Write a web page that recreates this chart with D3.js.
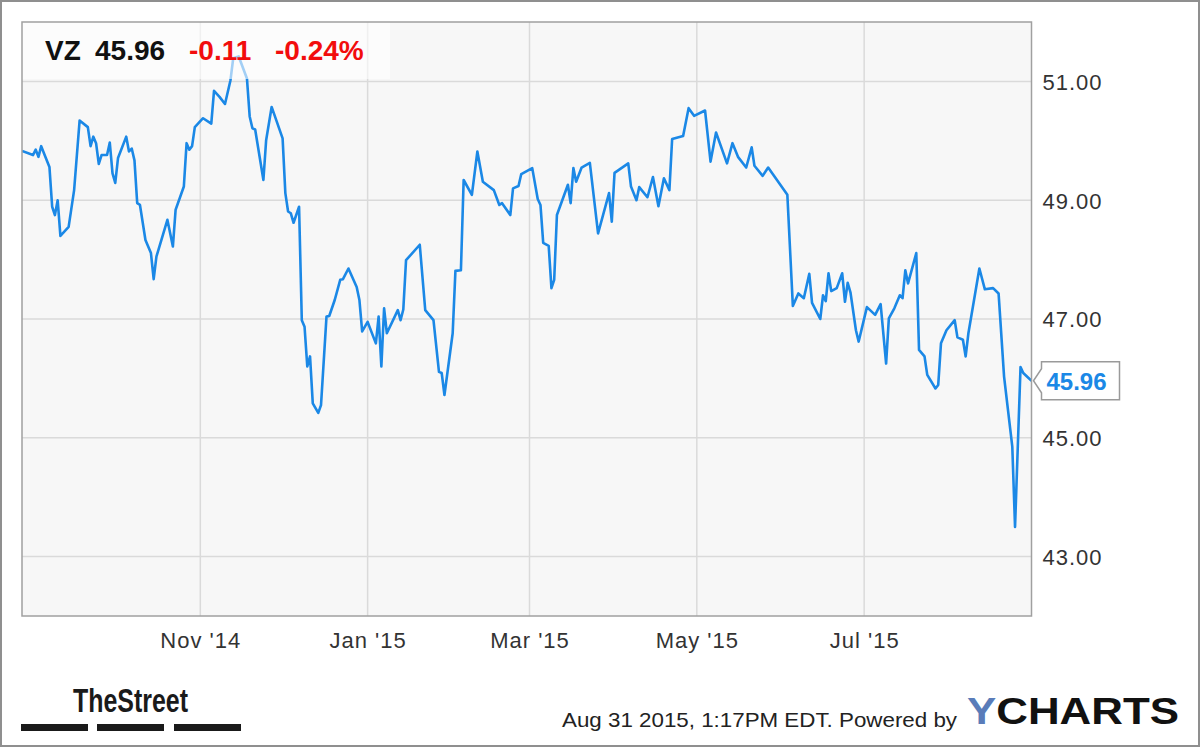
<!DOCTYPE html>
<html>
<head>
<meta charset="utf-8">
<script src="https://cdn.jsdelivr.net/npm/d3@7"></script>
<style>
  body { margin: 0; background: #fff; }
  svg { display: block; font-family: "Liberation Sans", Arial, sans-serif; }
</style>
</head>
<body>
<div class="container"></div>
<script>
const ticker = 'VZ';
const lastPrice = '45.96';
const change = '-0.11';
const changePct = '-0.24%';
const stamp = 'Aug 31 2015, 1:17PM EDT.  Powered by';

const yTicks = [43, 45, 47, 49, 51];
const xTicks = ['2014-11-01', '2015-01-01', '2015-03-01', '2015-05-01', '2015-07-01'];
const xDomain = ['2014-08-28', '2015-08-31'];
const yDomain = [42, 52];

// daily closes
const dates = [
  '2014-08-28', '2014-09-01', '2014-09-02', '2014-09-03', '2014-09-04', '2014-09-05', '2014-09-07', '2014-09-08',
  '2014-09-09', '2014-09-10', '2014-09-11', '2014-09-14', '2014-09-16', '2014-09-18', '2014-09-21', '2014-09-22',
  '2014-09-23', '2014-09-24', '2014-09-25', '2014-09-26', '2014-09-28', '2014-09-29', '2014-09-30', '2014-10-01',
  '2014-10-02', '2014-10-05', '2014-10-06', '2014-10-07', '2014-10-08', '2014-10-09', '2014-10-10', '2014-10-12',
  '2014-10-14', '2014-10-15', '2014-10-16', '2014-10-20', '2014-10-22', '2014-10-23', '2014-10-26', '2014-10-27',
  '2014-10-28', '2014-10-29', '2014-10-30', '2014-11-02', '2014-11-05', '2014-11-06', '2014-11-08', '2014-11-10',
  '2014-11-12', '2014-11-13', '2014-11-15', '2014-11-18', '2014-11-19', '2014-11-20', '2014-11-21', '2014-11-24',
  '2014-11-25', '2014-11-27', '2014-12-01', '2014-12-02', '2014-12-03', '2014-12-04', '2014-12-05', '2014-12-07',
  '2014-12-08', '2014-12-09', '2014-12-10', '2014-12-11', '2014-12-12', '2014-12-14', '2014-12-15', '2014-12-17',
  '2014-12-18', '2014-12-20', '2014-12-22', '2014-12-23', '2014-12-25', '2014-12-28', '2014-12-29', '2014-12-30',
  '2015-01-01', '2015-01-04', '2015-01-05', '2015-01-06', '2015-01-07', '2015-01-08', '2015-01-12', '2015-01-13',
  '2015-01-14', '2015-01-15', '2015-01-20', '2015-01-22', '2015-01-25', '2015-01-27', '2015-01-28', '2015-01-29',
  '2015-02-01', '2015-02-02', '2015-02-04', '2015-02-05', '2015-02-08', '2015-02-10', '2015-02-12', '2015-02-16',
  '2015-02-18', '2015-02-19', '2015-02-22', '2015-02-23', '2015-02-25', '2015-02-26', '2015-03-02', '2015-03-04',
  '2015-03-05', '2015-03-06', '2015-03-08', '2015-03-09', '2015-03-10', '2015-03-11', '2015-03-15', '2015-03-16',
  '2015-03-17', '2015-03-18', '2015-03-20', '2015-03-23', '2015-03-26', '2015-03-30', '2015-03-31', '2015-04-01',
  '2015-04-06', '2015-04-07', '2015-04-09', '2015-04-10', '2015-04-13', '2015-04-15', '2015-04-17', '2015-04-19',
  '2015-04-21', '2015-04-22', '2015-04-26', '2015-04-28', '2015-04-30', '2015-05-04', '2015-05-06', '2015-05-08',
  '2015-05-12', '2015-05-14', '2015-05-16', '2015-05-19', '2015-05-21', '2015-05-22', '2015-05-25', '2015-05-27',
  '2015-06-03', '2015-06-05', '2015-06-07', '2015-06-09', '2015-06-11', '2015-06-12', '2015-06-15', '2015-06-16',
  '2015-06-17', '2015-06-18', '2015-06-19', '2015-06-21', '2015-06-23', '2015-06-24', '2015-06-25', '2015-06-26',
  '2015-06-28', '2015-06-29', '2015-07-02', '2015-07-05', '2015-07-07', '2015-07-09', '2015-07-10', '2015-07-12',
  '2015-07-14', '2015-07-15', '2015-07-16', '2015-07-17', '2015-07-20', '2015-07-21', '2015-07-23', '2015-07-24',
  '2015-07-27', '2015-07-28', '2015-07-29', '2015-07-31', '2015-08-03', '2015-08-04', '2015-08-06', '2015-08-07',
  '2015-08-08', '2015-08-12', '2015-08-14', '2015-08-17', '2015-08-19', '2015-08-21', '2015-08-24', '2015-08-25',
  '2015-08-27', '2015-08-28', '2015-08-31'
];
const prices = [
  49.83, 49.76, 49.85, 49.73, 49.91, 49.79, 49.56, 48.89,
  48.75, 49.00, 48.40, 48.55, 49.17, 50.34, 50.23, 49.91,
  50.07, 49.96, 49.61, 49.76, 49.76, 49.97, 49.45, 49.29,
  49.71, 50.07, 49.82, 49.87, 49.67, 48.95, 48.92, 48.33,
  48.11, 47.67, 48.05, 48.67, 48.22, 48.84, 49.23, 49.96,
  49.85, 49.91, 50.23, 50.38, 50.29, 50.84, 50.74, 50.62,
  51.02, 51.39, 51.42, 51.05, 50.41, 50.21, 50.19, 49.34,
  50.01, 50.57, 50.04, 49.12, 48.81, 48.78, 48.62, 48.89,
  46.98, 46.87, 46.20, 46.37, 45.58, 45.42, 45.55, 47.04,
  47.05, 47.32, 47.66, 47.67, 47.85, 47.54, 47.32, 46.79,
  46.95, 46.59, 47.04, 46.20, 47.18, 46.76, 47.15, 46.98,
  47.16, 47.99, 48.25, 47.15, 46.98, 46.11, 46.09, 45.72,
  46.76, 47.81, 47.82, 49.34, 49.09, 49.82, 49.31, 49.17,
  48.92, 48.95, 48.75, 49.20, 49.24, 49.44, 49.54, 49.02,
  48.92, 48.28, 48.23, 47.52, 47.66, 48.75, 49.26, 48.95,
  49.54, 49.31, 49.55, 49.63, 48.44, 49.12, 48.64, 49.46,
  49.62, 49.23, 49.00, 49.22, 49.05, 49.39, 48.90, 49.37,
  49.17, 50.03, 50.08, 50.55, 50.42, 50.51, 49.65, 50.14,
  49.62, 49.96, 49.73, 49.55, 49.89, 49.58, 49.41, 49.55,
  49.09, 47.22, 47.43, 47.35, 47.76, 47.27, 47.00, 47.40,
  47.30, 47.77, 47.47, 47.52, 47.77, 47.29, 47.61, 47.45,
  46.81, 46.62, 47.20, 47.07, 47.25, 46.25, 47.01, 47.18,
  47.40, 47.35, 47.82, 47.60, 48.11, 46.48, 46.37, 46.06,
  45.83, 45.89, 46.59, 46.81, 46.98, 46.69, 46.65, 46.37,
  46.76, 47.85, 47.50, 47.52, 47.43, 46.03, 44.85, 43.50,
  46.19, 46.09, 45.96
];

const width = 1200;
const height = 747;
const plot = { left: 22, top: 22, right: 1031.5, bottom: 616 };
const lineColor = '#1b88e6';
const parseDate = d3.timeParse('%Y-%m-%d');

const data = dates.map((d, i) => ({ date: parseDate(d), price: prices[i] }));

const x = d3.scaleTime()
  .domain(xDomain.map(parseDate))
  .range([plot.left, plot.right]);

const y = d3.scaleLinear()
  .domain(yDomain)
  .range([plot.bottom, plot.top]);

const svg = d3.select('.container')
  .append('svg')
  .attr('width', width)
  .attr('height', height);

// outer frame
svg.append('rect')
  .attr('x', 1)
  .attr('y', 1)
  .attr('width', width - 2)
  .attr('height', height - 2)
  .attr('fill', '#fff')
  .attr('stroke', '#8f8f8f')
  .attr('stroke-width', 2);

// plot background
svg.append('rect')
  .attr('x', plot.left)
  .attr('y', plot.top)
  .attr('width', plot.right - plot.left)
  .attr('height', plot.bottom - plot.top)
  .attr('fill', '#f7f7f7');

// Gridlines
svg.append('g')
  .attr('class', 'grid')
  .selectAll('line.h')
  .data(yTicks)
  .enter()
  .append('line')
  .attr('x1', plot.left)
  .attr('x2', plot.right)
  .attr('y1', d => y(d))
  .attr('y2', d => y(d))
  .attr('stroke', '#dadada')
  .attr('stroke-width', 1.5);

svg.select('.grid')
  .selectAll('line.v')
  .data(xTicks.map(parseDate))
  .enter()
  .append('line')
  .attr('x1', d => x(d))
  .attr('x2', d => x(d))
  .attr('y1', plot.top)
  .attr('y2', plot.bottom)
  .attr('stroke', '#dadada')
  .attr('stroke-width', 1.5);

svg.append('clipPath')
  .attr('id', 'plot-clip')
  .append('rect')
  .attr('x', plot.left)
  .attr('y', plot.top)
  .attr('width', plot.right - plot.left)
  .attr('height', plot.bottom - plot.top);

// price line
const line = d3.line()
  .x(d => x(d.date))
  .y(d => y(d.price));

svg.append('path')
  .datum(data)
  .attr('clip-path', 'url(#plot-clip)')
  .attr('fill', 'none')
  .attr('stroke', lineColor)
  .attr('stroke-width', 2.6)
  .attr('stroke-linejoin', 'round')
  .attr('d', line);

// header box over the line
svg.append('rect')
  .attr('x', plot.left)
  .attr('y', plot.top)
  .attr('width', 368)
  .attr('height', 57)
  .attr('fill', '#fff')
  .attr('opacity', 0.6);

const header = svg.append('g')
  .attr('font-size', 28)
  .attr('font-weight', 'bold');

header.append('text').attr('x', 45).attr('y', 60).attr('fill', '#111').text(ticker);
header.append('text').attr('x', 95).attr('y', 60).attr('fill', '#111').text(lastPrice);
header.append('text').attr('x', 189).attr('y', 60).attr('fill', '#f20d0d').text(change);
header.append('text').attr('x', 275).attr('y', 60).attr('fill', '#f20d0d').text(changePct);

// plot border
svg.append('rect')
  .attr('x', plot.left)
  .attr('y', plot.top)
  .attr('width', plot.right - plot.left)
  .attr('height', plot.bottom - plot.top)
  .attr('fill', 'none')
  .attr('stroke', '#a0a0a0')
  .attr('stroke-width', 1.5);

// Axes
const xAxis = svg.append('g')
  .attr('transform', `translate(0, ${plot.bottom})`)
  .call(d3.axisBottom(x)
    .tickValues(xTicks.map(parseDate))
    .tickFormat(d3.timeFormat("%b '%y"))
    .tickSize(0)
    .tickPadding(32));

const yAxis = svg.append('g')
  .attr('transform', `translate(${plot.right}, 0)`)
  .call(d3.axisRight(y)
    .tickValues(yTicks)
    .tickFormat(d3.format('.2f'))
    .tickSize(0)
    .tickPadding(11));

[xAxis, yAxis].forEach(axis => {
  axis.select('.domain').remove();
  axis.selectAll('text')
    .attr('font-family', '"Liberation Sans", Arial, sans-serif')
    .attr('font-size', 22)
    .attr('letter-spacing', 1)
    .attr('fill', '#333');
});
xAxis.selectAll('text').attr('dy', 0);
yAxis.selectAll('text').attr('dy', '0.36em');

// last price callout
const lastY = y(prices[prices.length - 1]);
const cx = plot.right + 10;
svg.append('path')
  .attr('d', `M${plot.right + 2},${lastY} L${cx},${lastY - 12} L${cx},${lastY - 19} L${cx + 78},${lastY - 19} L${cx + 78},${lastY + 19} L${cx},${lastY + 19} L${cx},${lastY + 12} Z`)
  .attr('fill', '#fff')
  .attr('stroke', '#9a9a9a')
  .attr('stroke-width', 1.5);

svg.append('text')
  .attr('x', cx + 5)
  .attr('y', lastY + 9)
  .attr('font-size', 24)
  .attr('font-weight', 'bold')
  .attr('fill', lineColor)
  .text(lastPrice);

// footer
svg.append('text')
  .attr('x', 562)
  .attr('y', 727)
  .attr('font-size', 21)
  .attr('fill', '#222')
  .attr('textLength', 395)
  .attr('lengthAdjust', 'spacingAndGlyphs')
  .text(stamp);

const ych = svg.append('text')
  .attr('x', 967)
  .attr('y', 724)
  .attr('font-size', 36)
  .attr('font-weight', 'bold')
  .attr('textLength', 212)
  .attr('lengthAdjust', 'spacingAndGlyphs')
  .attr('fill', '#111');
ych.append('tspan').attr('fill', '#5a7cb9').text('Y');
ych.append('tspan').text('CHARTS');

svg.append('text')
  .attr('x', 73)
  .attr('y', 712)
  .attr('font-family', '"Liberation Sans Narrow", "Liberation Sans", Arial, sans-serif')
  .attr('font-size', 33)
  .attr('font-weight', 'bold')
  .attr('textLength', 115)
  .attr('lengthAdjust', 'spacingAndGlyphs')
  .attr('fill', '#1a1a1a')
  .text('TheStreet');

const barStarts = [21, 97, 174];
svg.append('g')
  .selectAll('rect')
  .data(barStarts)
  .enter()
  .append('rect')
  .attr('x', d => d)
  .attr('y', 724)
  .attr('width', 67)
  .attr('height', 7)
  .attr('fill', '#1a1a1a');
</script>
</body>
</html>
